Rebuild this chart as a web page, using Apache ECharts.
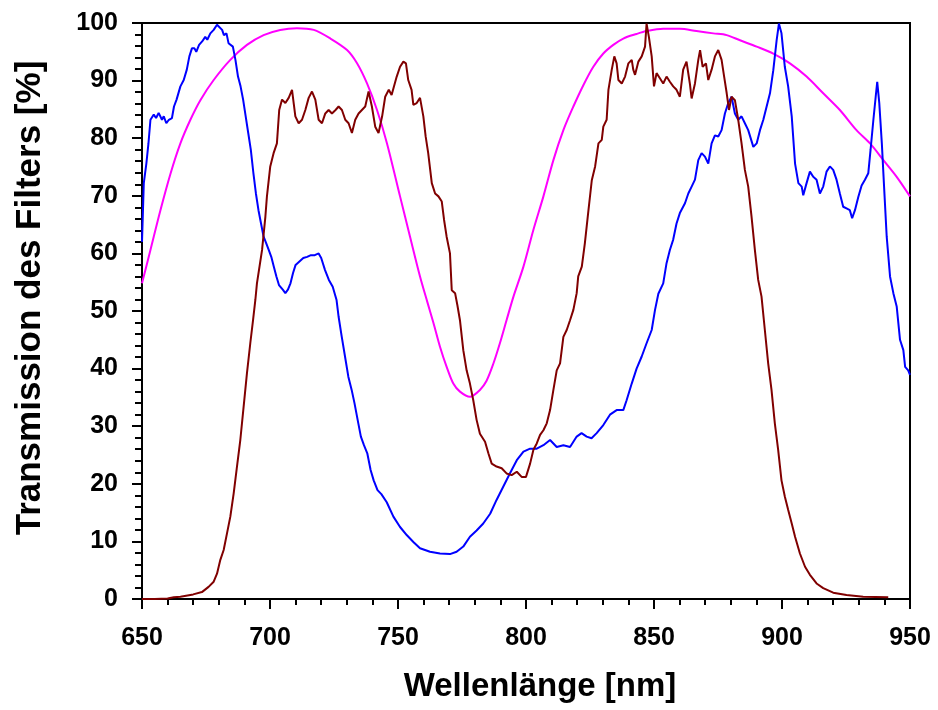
<!DOCTYPE html>
<html>
<head>
<meta charset="utf-8">
<script src="https://cdn.jsdelivr.net/npm/echarts@6/dist/echarts.min.js"></script>
<style>
html,body{margin:0;padding:0;background:#fff;}
#chart{width:938px;height:710px;}
</style>
</head>
<body>
<div id="chart"></div>
<script>
// Wavelength ticks
const xTicks = [650, 700, 750, 800, 850, 900, 950];
const yTicks = [0, 10, 20, 30, 40, 50, 60, 70, 80, 90, 100];

// Blue filter curve
const blueNm = [650,650.7,651.7,652.5,653.3,654.6,655.5,656.5,657.8,658.5,659.5,660.5,661.7,662.5,663.5,665,666.3,667.5,668.5,669.5,670.5,671.2,672.3,673.5,674.7,675.5,676.7,678,679.3,680,681.3,682,683,683.8,684.5,685.5,686.5,687.5,688.5,689.5,690.5,691.5,692.5,693.5,694.5,695.5,696.5,697.5,698.5,699.5,700.5,701.5,702.5,703.5,705,706,707,708,709,710,711.5,713,714.5,716,717.5,719,720,721.5,723,724.5,726,726.8,728,729.3,730.6,731.9,733,734.5,735.5,736.7,738,739.3,740.5,742,743.5,745.6,748.2,750.8,753.4,756,758.6,762.5,766.4,770.3,772.9,775.5,778.1,780.7,783.3,786,788.5,791.1,793.7,796.4,799,801.6,804.2,806.8,809.4,812,814.6,817.2,819.8,821.7,823.7,825.6,827.6,830.2,832.8,835.4,838,839.3,841.3,843.2,845.2,847.1,849.1,850.4,851.7,853.6,854.9,856.2,857.5,858.8,860.1,862.1,863.4,864.7,866,867.3,868.6,869.9,871.2,872.5,873.8,875.1,876.4,877.7,879,880.3,881.6,882.9,884.2,885.5,886.8,888.8,890.1,891.4,892.7,894,895.3,896.6,897.9,898.8,899.8,901.1,902.4,903.8,905.1,906.4,907.7,908.3,909.6,910.9,912.2,913.5,914.8,916.1,917.4,918.7,920,921.3,922.6,923.9,925.2,926.5,927.4,928.5,929.8,931.1,932.4,933.7,934.6,935.7,936.6,937.2,938,939,939.8,940.9,942.2,943.5,944.8,946.1,947.4,948.1,949.3,950];
const blueT = [62,72.2,75.6,79,83.2,84.1,83.5,84.4,83.2,83.8,82.6,83.2,83.5,85.5,86.7,89,90.1,91.9,94.2,95.6,95.6,95,96.2,96.8,97.6,97.1,98.2,98.8,99.7,99.9,98.8,97.9,98.2,96.5,96.8,95.9,93.6,90.7,89,86.7,83.8,80.9,78,74,70.4,67.5,65.2,62.9,61.8,60.6,59.4,57.7,56,54.5,53.7,53.1,53.7,54.8,56.6,58,58.6,59.2,59.4,59.7,59.7,60,59.2,57.1,55.4,54.2,51.9,49,45.6,42.1,38.6,36.3,34,30.5,28.2,26.7,25.3,22.4,20.6,18.9,18.2,16.8,14.3,12.5,11.1,9.9,8.8,8.2,7.9,7.8,8.2,9.1,10.8,11.9,13.1,14.8,17.2,19.5,21.8,24.1,25.6,26.1,26.1,26.7,27.6,26.4,26.7,26.4,28.2,28.8,28.2,27.9,28.8,30.2,32,32.8,32.8,34.5,37.4,40,42.1,44.4,46.7,50.2,53,54.8,58.3,60.6,62.4,65.2,67,68.7,70.4,71.6,72.8,76.2,77.4,76.8,75.6,79.1,80.5,80.3,81.4,84.3,86.1,87.2,84.3,83.2,83.8,82.6,81.4,78.5,79.1,81.4,83.2,85.5,87.8,91.8,97,99.9,98.2,92.4,89,83.8,75.6,72.2,71.6,70.1,72.2,74.2,73.3,72.8,70.4,71.6,74.2,75.1,74.5,72.8,70.4,68.1,67.8,67.5,66.1,67.5,69.8,71.8,72.8,73.9,78,83.2,87.2,89.8,86.1,79.1,72.2,62.9,56,53.1,50.8,45,43.2,40.3,39.7,38.9];

// Dark red filter curve
const redNm = [650,655,660,662.4,665,670,673.4,676,678,679.3,680.6,681.9,683.2,684.5,685.8,687.1,688.4,689.7,691,692.3,693.4,694.3,694.9,696.9,698.2,698.8,700.1,701.4,702.7,703.6,704.7,706,707.3,708.6,709.9,711.2,712.5,713.8,715.1,716.4,717.7,719,720.3,721.6,722.9,724.2,725.6,726.8,728.1,729.4,730.7,732,733.3,734.6,735.9,737.2,738.5,739.8,741.1,742.4,743.8,745,746.4,747.5,748.2,749.5,750.8,752.1,753.1,754,755.3,756,757.3,758.6,759.9,760.8,761.8,763.2,764.5,765.8,767.1,768,769,770.3,771,772.3,773.2,774.2,775.5,776.8,778.1,779.4,780.7,782,784,785.3,786.6,788.5,790.5,792.4,794.4,796.4,798.3,800,801.6,802.9,804.2,805.5,806.8,808.1,809.4,810.7,812,813.3,814.6,815.9,817.2,818.5,819.8,820.4,821.8,823,824.4,825.7,827,828.3,829.6,830.2,831.5,832.2,833.5,834.5,835.4,836.1,837.4,838.7,840,841.3,841.9,842.6,843.9,845.2,846.5,847.1,848,849.1,850,851,852.3,853.6,854.9,856.2,857.5,858.8,860.1,861.4,862.7,864,864.7,866,867.3,868,869,870.3,871.2,872.5,873.8,875.1,876.4,877.4,878.4,879.3,880.3,881.6,882.9,884.2,885.5,886.8,888.1,889.4,890.7,892,893.3,894.6,895.9,897.2,898.5,899.8,901.1,902.4,903.8,905.1,907,909,910.9,913.5,916.1,920,925.2,931.7,941.5];
const redT = [0,0,0.1,0.3,0.4,0.8,1.2,2.1,3,4.4,6.8,8.5,11.4,14.3,18.3,23,27.6,33.4,39.2,44.4,48.5,52,54.8,60.6,66.4,69.9,75.1,77.4,79.1,84.9,86.7,86.1,87,88.4,83.8,82.6,83.2,84.9,87,88.1,86.7,83.2,82.6,84.3,84.9,84.3,84.9,85.5,84.9,83.2,82.6,80.9,83.2,84.3,84.9,85.5,88.1,85.5,82,80.9,83.8,87.2,88.4,87.5,87.2,90.7,92.4,93.3,93,90.1,88.4,85.8,86.1,87,83.8,80.3,77.4,72.2,70.4,69.9,69,65.8,62.9,60,53.6,53.1,51,48.4,43.2,39.7,37.4,34.5,31.1,28.7,27.3,25.3,23.5,23,22.7,21.8,21.5,22.1,21.2,21.2,23.5,25.9,27,28.5,29.3,30.5,32.8,36.3,39.7,40.9,45.5,46.7,48.4,50.2,53.1,56,57.7,61.8,67.5,72.7,75.1,79.1,79.7,82,83.2,88.4,91.9,94.2,93,90.1,89.5,90.7,93,93.6,91.9,91,93.3,94.2,95.9,99.9,97.6,94.2,89,91.3,90.4,89.5,90.7,89.8,89,88.4,87.2,91.9,93.3,89.5,86.9,89.5,93.6,95.3,92.4,93,90.1,91.9,94.2,95.3,93.6,90.7,87.8,84.9,87.2,86.6,83.2,79.1,74.5,71.6,66.4,60.6,55.4,52.5,46.7,40.9,36.3,30.5,25.9,20.6,17.8,15.5,13.1,10.8,7.9,5.6,4.2,2.7,1.9,1.1,0.7,0.4,0.3];

// Magenta filter curve
const pinkNm = [650,653.3,657.2,661.1,665,668.9,672.8,678,684.5,691,697.5,704,710.5,717.1,723.6,730.1,734,737.9,741.8,745.7,750.8,754.7,758.6,761.5,763.8,766.4,769,771.6,774.2,778.1,782,784.6,787.2,789.8,792.4,795.1,799,802.9,806.8,810.7,814.6,818.5,822.4,826.3,830.2,834.1,838,843.2,847.1,853.6,860.1,866.6,873.2,878.4,883.6,890.1,896.6,903.1,909.6,916.1,922.6,929.1,934.4,939.6,944.8,950];
const pinkT = [54.8,60.6,67.5,73.8,79.1,83.2,86.6,90.1,93.6,96.2,97.9,98.8,99.1,98.8,97.3,95.3,93,89.5,84.9,79.1,69.9,62.9,56,51.5,48,43.8,40.3,37.4,36,35.1,36.3,37.9,40.8,44.4,48.4,52.5,57.7,64.1,69.9,76.2,81.4,85.5,89.2,92.4,94.7,96.2,97.3,98.1,98.6,99,99,98.6,98.2,97.9,97,95.9,94.7,93,90.7,87.8,84.9,81.4,79.1,76.2,73.3,69.9];

function zip(a, b) { return a.map((v, i) => [v, b[i]]); }

const chart = echarts.init(document.getElementById('chart'), null, {renderer: 'canvas'});
const font = '"Liberation Sans", Arial, sans-serif';
chart.setOption({
  animation: false,
  backgroundColor: '#ffffff',
  grid: {left: 142, right: 28, top: 23, bottom: 111, show: true, borderColor: '#000', borderWidth: 2, backgroundColor: 'transparent'},
  xAxis: {
    type: 'value', min: xTicks[0], max: xTicks[xTicks.length - 1], interval: 50,
    name: 'Wellenlänge [nm]', nameLocation: 'middle', nameGap: 71,
    nameTextStyle: {fontFamily: font, fontWeight: 'bold', fontSize: 33, color: '#000', padding: [0, 0, 0, 28]},
    axisLine: {show: true, onZero: false, lineStyle: {color: '#000', width: 2}},
    axisTick: {show: true, inside: false, length: 10, lineStyle: {color: '#000', width: 2}},
    minorTick: {show: true, splitNumber: 5, length: 6, lineStyle: {color: '#000', width: 2}},
    splitLine: {show: false},
    axisLabel: {fontFamily: font, fontWeight: 'bold', fontSize: 25, color: '#000', margin: 27}
  },
  yAxis: {
    type: 'value', min: yTicks[0], max: yTicks[yTicks.length - 1], interval: 10,
    name: 'Transmission des Filters [%]', nameLocation: 'middle', nameGap: 94, nameRotate: 90,
    nameTextStyle: {fontFamily: font, fontWeight: 'bold', fontSize: 35, color: '#000', padding: [0, 0, 0, 26]},
    axisLine: {show: true, lineStyle: {color: '#000', width: 2}},
    axisTick: {show: true, inside: false, length: 10, lineStyle: {color: '#000', width: 2}},
    minorTick: {show: true, splitNumber: 5, length: 7, lineStyle: {color: '#000', width: 2}},
    splitLine: {show: false},
    axisLabel: {fontFamily: font, fontWeight: 'bold', fontSize: 25, color: '#000', margin: 24}
  },
  series: [
    {type: 'line', name: 'magenta', data: zip(pinkNm, pinkT), showSymbol: false, smooth: 0.3, lineStyle: {color: '#ff00ff', width: 2}, itemStyle: {color: '#ff00ff'}},
    {type: 'line', name: 'blue', data: zip(blueNm, blueT), showSymbol: false, lineStyle: {color: '#0000ff', width: 2}, itemStyle: {color: '#0000ff'}},
    {type: 'line', name: 'red', data: zip(redNm, redT), showSymbol: false, lineStyle: {color: '#800000', width: 2}, itemStyle: {color: '#800000'}}
  ]
});
</script>
</body>
</html>
